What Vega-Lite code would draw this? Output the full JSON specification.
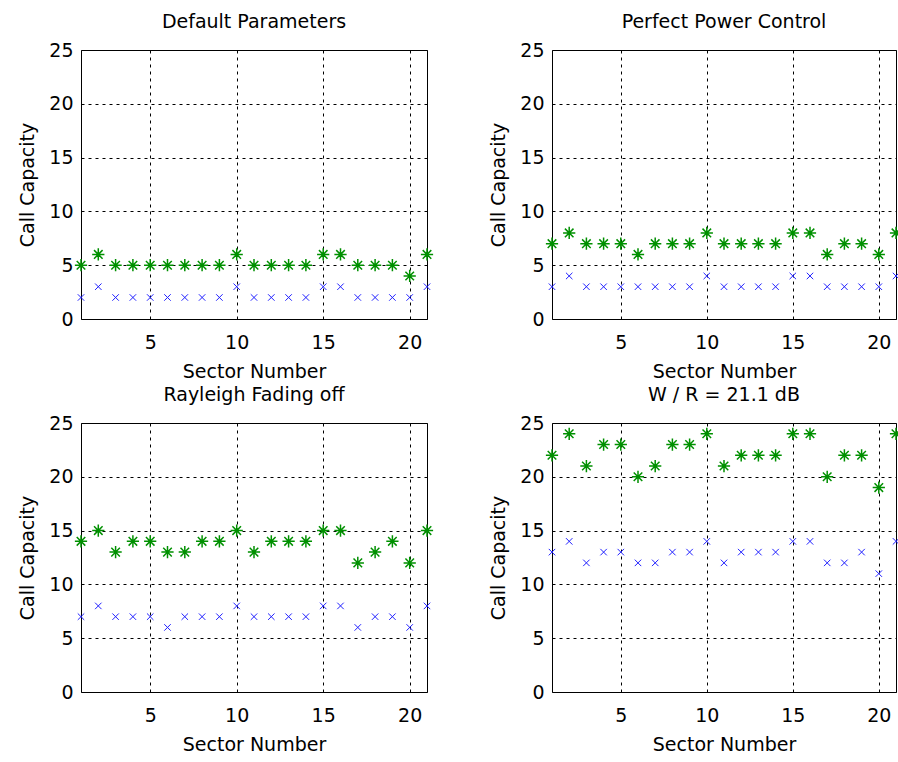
{
  "$schema": "https://vega.github.io/schema/vega-lite/v6.json",
  "background": "white",
  "padding": {"left": 18, "top": 12, "right": 0, "bottom": 0},
  "config": {
    "font": "DejaVu Sans",
    "view": {"stroke": "black", "strokeWidth": 1},
    "axis": {
      "labelFont": "DejaVu Sans", "labelFontSize": 19, "labelColor": "black",
      "titleFont": "DejaVu Sans", "titleFontSize": 19, "titleFontWeight": "normal", "titleColor": "black",
      "domain": false, "ticks": false, "tickSize": 0,
      "grid": true, "gridColor": "black", "gridDash": [3, 4], "gridOpacity": 1, "gridWidth": 1
    },
    "axisX": {"labelPadding": 14, "titlePadding": 10},
    "axisY": {"labelPadding": 8, "titlePadding": 11},
    "title": {"font": "DejaVu Sans", "fontSize": 19, "fontWeight": "normal", "color": "black", "offset": 9}
  },
  "data": {
    "values": [
      {"panel": "Default Parameters", "sector": 1, "upper": 5, "lower": 2},
      {"panel": "Default Parameters", "sector": 2, "upper": 6, "lower": 3},
      {"panel": "Default Parameters", "sector": 3, "upper": 5, "lower": 2},
      {"panel": "Default Parameters", "sector": 4, "upper": 5, "lower": 2},
      {"panel": "Default Parameters", "sector": 5, "upper": 5, "lower": 2},
      {"panel": "Default Parameters", "sector": 6, "upper": 5, "lower": 2},
      {"panel": "Default Parameters", "sector": 7, "upper": 5, "lower": 2},
      {"panel": "Default Parameters", "sector": 8, "upper": 5, "lower": 2},
      {"panel": "Default Parameters", "sector": 9, "upper": 5, "lower": 2},
      {"panel": "Default Parameters", "sector": 10, "upper": 6, "lower": 3},
      {"panel": "Default Parameters", "sector": 11, "upper": 5, "lower": 2},
      {"panel": "Default Parameters", "sector": 12, "upper": 5, "lower": 2},
      {"panel": "Default Parameters", "sector": 13, "upper": 5, "lower": 2},
      {"panel": "Default Parameters", "sector": 14, "upper": 5, "lower": 2},
      {"panel": "Default Parameters", "sector": 15, "upper": 6, "lower": 3},
      {"panel": "Default Parameters", "sector": 16, "upper": 6, "lower": 3},
      {"panel": "Default Parameters", "sector": 17, "upper": 5, "lower": 2},
      {"panel": "Default Parameters", "sector": 18, "upper": 5, "lower": 2},
      {"panel": "Default Parameters", "sector": 19, "upper": 5, "lower": 2},
      {"panel": "Default Parameters", "sector": 20, "upper": 4, "lower": 2},
      {"panel": "Default Parameters", "sector": 21, "upper": 6, "lower": 3},
      {"panel": "Perfect Power Control", "sector": 1, "upper": 7, "lower": 3},
      {"panel": "Perfect Power Control", "sector": 2, "upper": 8, "lower": 4},
      {"panel": "Perfect Power Control", "sector": 3, "upper": 7, "lower": 3},
      {"panel": "Perfect Power Control", "sector": 4, "upper": 7, "lower": 3},
      {"panel": "Perfect Power Control", "sector": 5, "upper": 7, "lower": 3},
      {"panel": "Perfect Power Control", "sector": 6, "upper": 6, "lower": 3},
      {"panel": "Perfect Power Control", "sector": 7, "upper": 7, "lower": 3},
      {"panel": "Perfect Power Control", "sector": 8, "upper": 7, "lower": 3},
      {"panel": "Perfect Power Control", "sector": 9, "upper": 7, "lower": 3},
      {"panel": "Perfect Power Control", "sector": 10, "upper": 8, "lower": 4},
      {"panel": "Perfect Power Control", "sector": 11, "upper": 7, "lower": 3},
      {"panel": "Perfect Power Control", "sector": 12, "upper": 7, "lower": 3},
      {"panel": "Perfect Power Control", "sector": 13, "upper": 7, "lower": 3},
      {"panel": "Perfect Power Control", "sector": 14, "upper": 7, "lower": 3},
      {"panel": "Perfect Power Control", "sector": 15, "upper": 8, "lower": 4},
      {"panel": "Perfect Power Control", "sector": 16, "upper": 8, "lower": 4},
      {"panel": "Perfect Power Control", "sector": 17, "upper": 6, "lower": 3},
      {"panel": "Perfect Power Control", "sector": 18, "upper": 7, "lower": 3},
      {"panel": "Perfect Power Control", "sector": 19, "upper": 7, "lower": 3},
      {"panel": "Perfect Power Control", "sector": 20, "upper": 6, "lower": 3},
      {"panel": "Perfect Power Control", "sector": 21, "upper": 8, "lower": 4},
      {"panel": "Rayleigh Fading off", "sector": 1, "upper": 14, "lower": 7},
      {"panel": "Rayleigh Fading off", "sector": 2, "upper": 15, "lower": 8},
      {"panel": "Rayleigh Fading off", "sector": 3, "upper": 13, "lower": 7},
      {"panel": "Rayleigh Fading off", "sector": 4, "upper": 14, "lower": 7},
      {"panel": "Rayleigh Fading off", "sector": 5, "upper": 14, "lower": 7},
      {"panel": "Rayleigh Fading off", "sector": 6, "upper": 13, "lower": 6},
      {"panel": "Rayleigh Fading off", "sector": 7, "upper": 13, "lower": 7},
      {"panel": "Rayleigh Fading off", "sector": 8, "upper": 14, "lower": 7},
      {"panel": "Rayleigh Fading off", "sector": 9, "upper": 14, "lower": 7},
      {"panel": "Rayleigh Fading off", "sector": 10, "upper": 15, "lower": 8},
      {"panel": "Rayleigh Fading off", "sector": 11, "upper": 13, "lower": 7},
      {"panel": "Rayleigh Fading off", "sector": 12, "upper": 14, "lower": 7},
      {"panel": "Rayleigh Fading off", "sector": 13, "upper": 14, "lower": 7},
      {"panel": "Rayleigh Fading off", "sector": 14, "upper": 14, "lower": 7},
      {"panel": "Rayleigh Fading off", "sector": 15, "upper": 15, "lower": 8},
      {"panel": "Rayleigh Fading off", "sector": 16, "upper": 15, "lower": 8},
      {"panel": "Rayleigh Fading off", "sector": 17, "upper": 12, "lower": 6},
      {"panel": "Rayleigh Fading off", "sector": 18, "upper": 13, "lower": 7},
      {"panel": "Rayleigh Fading off", "sector": 19, "upper": 14, "lower": 7},
      {"panel": "Rayleigh Fading off", "sector": 20, "upper": 12, "lower": 6},
      {"panel": "Rayleigh Fading off", "sector": 21, "upper": 15, "lower": 8},
      {"panel": "W / R = 21.1 dB", "sector": 1, "upper": 22, "lower": 13},
      {"panel": "W / R = 21.1 dB", "sector": 2, "upper": 24, "lower": 14},
      {"panel": "W / R = 21.1 dB", "sector": 3, "upper": 21, "lower": 12},
      {"panel": "W / R = 21.1 dB", "sector": 4, "upper": 23, "lower": 13},
      {"panel": "W / R = 21.1 dB", "sector": 5, "upper": 23, "lower": 13},
      {"panel": "W / R = 21.1 dB", "sector": 6, "upper": 20, "lower": 12},
      {"panel": "W / R = 21.1 dB", "sector": 7, "upper": 21, "lower": 12},
      {"panel": "W / R = 21.1 dB", "sector": 8, "upper": 23, "lower": 13},
      {"panel": "W / R = 21.1 dB", "sector": 9, "upper": 23, "lower": 13},
      {"panel": "W / R = 21.1 dB", "sector": 10, "upper": 24, "lower": 14},
      {"panel": "W / R = 21.1 dB", "sector": 11, "upper": 21, "lower": 12},
      {"panel": "W / R = 21.1 dB", "sector": 12, "upper": 22, "lower": 13},
      {"panel": "W / R = 21.1 dB", "sector": 13, "upper": 22, "lower": 13},
      {"panel": "W / R = 21.1 dB", "sector": 14, "upper": 22, "lower": 13},
      {"panel": "W / R = 21.1 dB", "sector": 15, "upper": 24, "lower": 14},
      {"panel": "W / R = 21.1 dB", "sector": 16, "upper": 24, "lower": 14},
      {"panel": "W / R = 21.1 dB", "sector": 17, "upper": 20, "lower": 12},
      {"panel": "W / R = 21.1 dB", "sector": 18, "upper": 22, "lower": 12},
      {"panel": "W / R = 21.1 dB", "sector": 19, "upper": 22, "lower": 13},
      {"panel": "W / R = 21.1 dB", "sector": 20, "upper": 19, "lower": 11},
      {"panel": "W / R = 21.1 dB", "sector": 21, "upper": 24, "lower": 14}
    ]
  },
  "columns": 2,
  "spacing": {"column": 52, "row": 3},
  "concat": [
    {
      "title": "Default Parameters",
      "width": 346, "height": 269,
      "transform": [{"filter": "datum.panel == 'Default Parameters'"}],
      "encoding": {
        "x": {"field": "sector", "type": "quantitative", "scale": {"domain": [1, 21], "nice": false, "zero": false}, "axis": {"values": [5, 10, 15, 20], "title": "Sector Number"}}
      },
      "layer": [
        {"mark": {"type": "point", "shape": "M-1,-1L1,1M-1,1L1,-1", "filled": false, "color": "#2020ff", "strokeWidth": 1, "size": 42, "opacity": 1},
         "encoding": {"y": {"field": "lower", "type": "quantitative", "scale": {"domain": [0, 25], "nice": false}, "axis": {"values": [0, 5, 10, 15, 20, 25], "title": "Call Capacity"}}}},
        {"mark": {"type": "point", "shape": "M-1,0L1,0M0,-1L0,1M-0.7,-0.7L0.7,0.7M-0.7,0.7L0.7,-0.7", "filled": false, "color": "#009000", "strokeWidth": 1.5, "size": 150, "opacity": 1},
         "encoding": {"y": {"field": "upper", "type": "quantitative", "scale": {"domain": [0, 25], "nice": false}, "axis": {"values": [0, 5, 10, 15, 20, 25], "title": "Call Capacity"}}}}
      ]
    },
    {
      "title": "Perfect Power Control",
      "width": 344, "height": 269,
      "transform": [{"filter": "datum.panel == 'Perfect Power Control'"}],
      "encoding": {
        "x": {"field": "sector", "type": "quantitative", "scale": {"domain": [1, 21], "nice": false, "zero": false}, "axis": {"values": [5, 10, 15, 20], "title": "Sector Number"}}
      },
      "layer": [
        {"mark": {"type": "point", "shape": "M-1,-1L1,1M-1,1L1,-1", "filled": false, "color": "#2020ff", "strokeWidth": 1, "size": 42, "opacity": 1},
         "encoding": {"y": {"field": "lower", "type": "quantitative", "scale": {"domain": [0, 25], "nice": false}, "axis": {"values": [0, 5, 10, 15, 20, 25], "title": "Call Capacity"}}}},
        {"mark": {"type": "point", "shape": "M-1,0L1,0M0,-1L0,1M-0.7,-0.7L0.7,0.7M-0.7,0.7L0.7,-0.7", "filled": false, "color": "#009000", "strokeWidth": 1.5, "size": 150, "opacity": 1},
         "encoding": {"y": {"field": "upper", "type": "quantitative", "scale": {"domain": [0, 25], "nice": false}, "axis": {"values": [0, 5, 10, 15, 20, 25], "title": "Call Capacity"}}}}
      ]
    },
    {
      "title": "Rayleigh Fading off",
      "width": 346, "height": 269,
      "transform": [{"filter": "datum.panel == 'Rayleigh Fading off'"}],
      "encoding": {
        "x": {"field": "sector", "type": "quantitative", "scale": {"domain": [1, 21], "nice": false, "zero": false}, "axis": {"values": [5, 10, 15, 20], "title": "Sector Number"}}
      },
      "layer": [
        {"mark": {"type": "point", "shape": "M-1,-1L1,1M-1,1L1,-1", "filled": false, "color": "#2020ff", "strokeWidth": 1, "size": 42, "opacity": 1},
         "encoding": {"y": {"field": "lower", "type": "quantitative", "scale": {"domain": [0, 25], "nice": false}, "axis": {"values": [0, 5, 10, 15, 20, 25], "title": "Call Capacity"}}}},
        {"mark": {"type": "point", "shape": "M-1,0L1,0M0,-1L0,1M-0.7,-0.7L0.7,0.7M-0.7,0.7L0.7,-0.7", "filled": false, "color": "#009000", "strokeWidth": 1.5, "size": 150, "opacity": 1},
         "encoding": {"y": {"field": "upper", "type": "quantitative", "scale": {"domain": [0, 25], "nice": false}, "axis": {"values": [0, 5, 10, 15, 20, 25], "title": "Call Capacity"}}}}
      ]
    },
    {
      "title": "W / R = 21.1 dB",
      "width": 344, "height": 269,
      "transform": [{"filter": "datum.panel == 'W / R = 21.1 dB'"}],
      "encoding": {
        "x": {"field": "sector", "type": "quantitative", "scale": {"domain": [1, 21], "nice": false, "zero": false}, "axis": {"values": [5, 10, 15, 20], "title": "Sector Number"}}
      },
      "layer": [
        {"mark": {"type": "point", "shape": "M-1,-1L1,1M-1,1L1,-1", "filled": false, "color": "#2020ff", "strokeWidth": 1, "size": 42, "opacity": 1},
         "encoding": {"y": {"field": "lower", "type": "quantitative", "scale": {"domain": [0, 25], "nice": false}, "axis": {"values": [0, 5, 10, 15, 20, 25], "title": "Call Capacity"}}}},
        {"mark": {"type": "point", "shape": "M-1,0L1,0M0,-1L0,1M-0.7,-0.7L0.7,0.7M-0.7,0.7L0.7,-0.7", "filled": false, "color": "#009000", "strokeWidth": 1.5, "size": 150, "opacity": 1},
         "encoding": {"y": {"field": "upper", "type": "quantitative", "scale": {"domain": [0, 25], "nice": false}, "axis": {"values": [0, 5, 10, 15, 20, 25], "title": "Call Capacity"}}}}
      ]
    }
  ]
}
